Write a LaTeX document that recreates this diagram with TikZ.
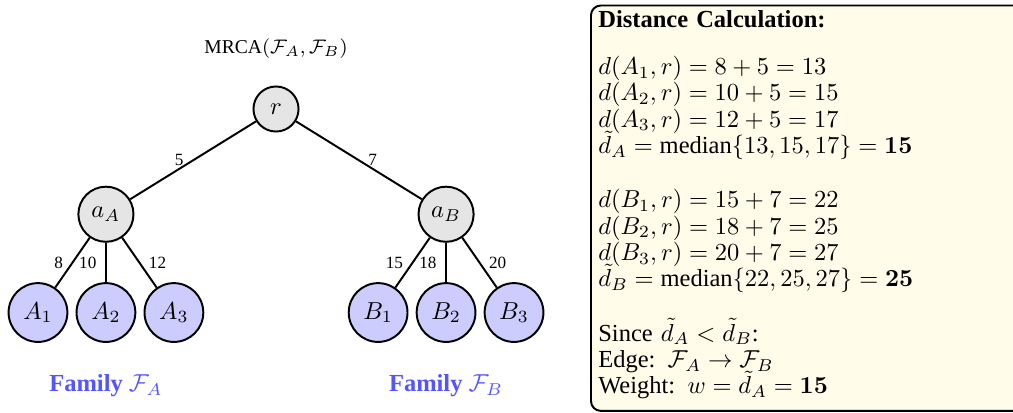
\documentclass[tikz,border=0pt]{standalone}
\usepackage[no-math]{fontspec}
\setmainfont{Liberation Serif}
\usetikzlibrary{positioning}
\definecolor{leafblue}{RGB}{204,204,255}
\definecolor{famblue}{RGB}{85,85,255}
\definecolor{notecream}{RGB}{255,252,234}

\begin{document}
\begin{tikzpicture}[
    node distance=1.51cm and 2.44cm, on grid,
    anc/.style={draw, thick, circle, fill=gray!20, inner sep=1pt},
    rootnode/.style={anc, minimum size=18.4pt},
    famnode/.style={anc, minimum size=22.5pt},
    leaf/.style={draw, thick, circle, fill=leafblue, minimum size=24pt, inner sep=1pt},
    wt/.style={font=\scriptsize, inner sep=3.5pt},
    link/.style={thick},
    famlabel/.style={text=famblue, font=\bfseries},
    calcbox/.style={draw, thick, rounded corners=4pt, fill=notecream, text width=7cm, align=left,
        inner xsep=3pt, inner ysep=2pt,
        font={\fontsize{10}{10.75}\selectfont\lineskiplimit=-100pt}}
]
\useasboundingbox (0,0) rectangle (14.534,-5.925);
% Tree: common ancestor and the two families
\node[rootnode] (r) at (3.96,-1.564) {$r$};
\node[font=\footnotesize, above=0.87cm of r] (mrca) {MRCA$(\mathcal{F}_A, \mathcal{F}_B)$};
\node[famnode, below left=of r] (aA) {$a_A$};
\node[famnode, below right=of r] (aB) {$a_B$};
% leaves of family A
\node[leaf, below=1.41cm of aA] (A2) {$A_2$};
\node[leaf, left=0.975cm of A2] (A1) {$A_1$};
\node[leaf, right=0.975cm of A2] (A3) {$A_3$};
% leaves of family B
\node[leaf, below=1.41cm of aB] (B2) {$B_2$};
\node[leaf, left=0.975cm of B2] (B1) {$B_1$};
\node[leaf, right=0.975cm of B2] (B3) {$B_3$};
\node[famlabel, below=1.05cm of A2] (famA) {Family $\mathcal{F}_A$};
\node[famlabel, below=1.05cm of B2] (famB) {Family $\mathcal{F}_B$};
% weighted edges
\draw[link] (r) -- node[wt, left] {5} (aA);
\draw[link] (r) -- node[wt, right] {7} (aB);
\draw[link] (aA) -- node[wt, left] {8} (A1);
\draw[link] (aA) -- node[wt, left] {10} (A2);
\draw[link] (aA) -- node[wt, right] {12} (A3);
\draw[link] (aB) -- node[wt, left] {15} (B1);
\draw[link] (aB) -- node[wt, left] {18} (B2);
\draw[link] (aB) -- node[wt, right] {20} (B3);
% Right side: distance calculation box
\node[calcbox, anchor=north west] (calc) at (8.465,-0.065) {%
\textbf{Distance Calculation:}\\[0.3cm]
$d(A_1, r) = 8 + 5 = 13$\\
$d(A_2, r) = 10 + 5 = 15$\\
$d(A_3, r) = 12 + 5 = 17$\\
$\tilde{d}_A = \mbox{median}\{13, 15, 17\} = \mathbf{15}$\\[0.4cm]
$d(B_1, r) = 15 + 7 = 22$\\
$d(B_2, r) = 18 + 7 = 25$\\
$d(B_3, r) = 20 + 7 = 27$\\
$\tilde{d}_B = \mbox{median}\{22, 25, 27\} = \mathbf{25}$\\[0.4cm]
Since $\tilde{d}_A < \tilde{d}_B$:\\
Edge: $\mathcal{F}_A \to \mathcal{F}_B$\\
Weight: $w = \tilde{d}_A = \mathbf{15}$\rule[-5pt]{0pt}{0pt}};
\end{tikzpicture}
\end{document}
